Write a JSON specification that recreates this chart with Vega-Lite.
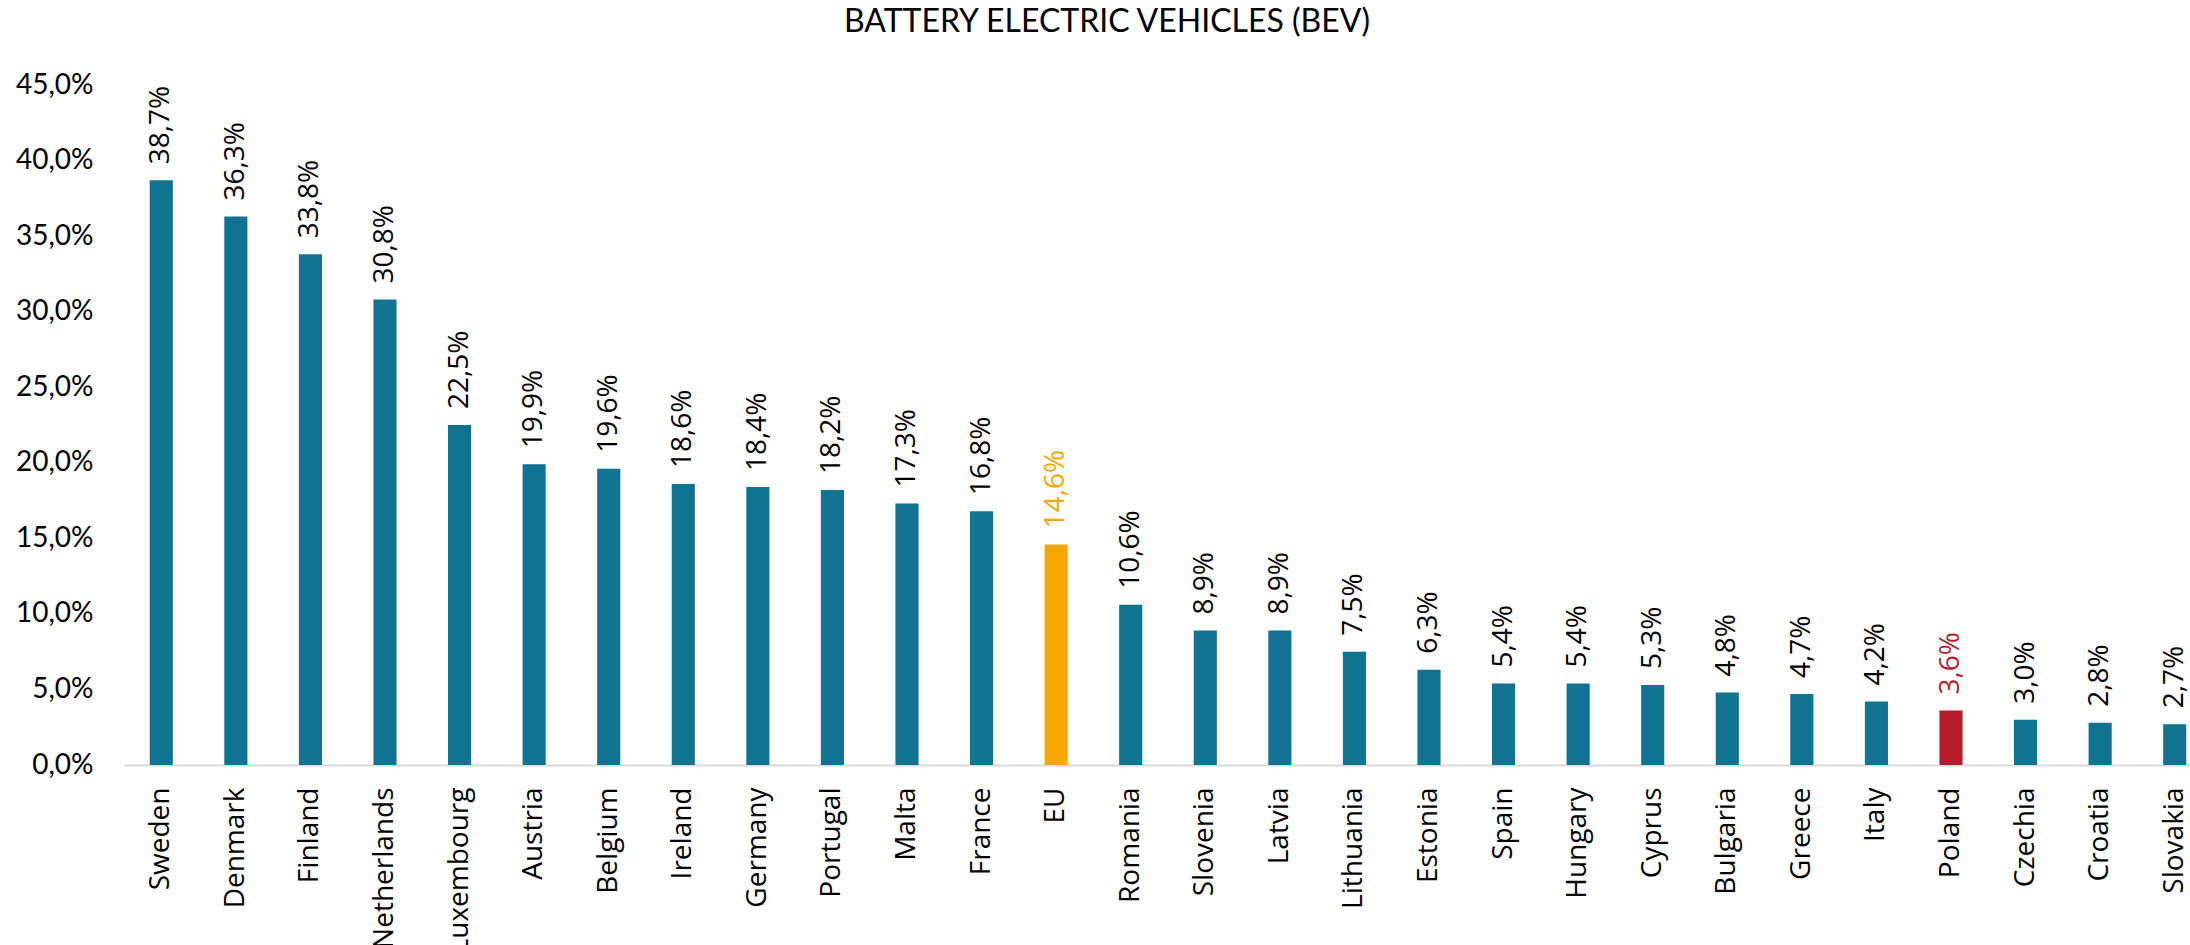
{
  "$schema": "https://vega.github.io/schema/vega-lite/v6.json",
  "width": 2066,
  "height": 680,
  "autosize": {"type": "none"},
  "padding": {"left": 124, "top": 85, "right": 0, "bottom": 180},
  "background": "white",
  "title": {
    "text": "BATTERY ELECTRIC VEHICLES (BEV)",
    "font": "Lato",
    "fontSize": 32,
    "fontWeight": "normal",
    "color": "#000000",
    "anchor": "middle",
    "frame": "group",
    "dx": -50,
    "baseline": "alphabetic",
    "offset": 7
  },
  "config": {
    "view": {"stroke": null},
    "locale": {"number": {"decimal": ",", "thousands": " ", "grouping": [3], "currency": ["", ""]}}
  },
  "data": {
    "values": [
      {"country": "Sweden", "share": 0.387},
      {"country": "Denmark", "share": 0.363},
      {"country": "Finland", "share": 0.338},
      {"country": "Netherlands", "share": 0.308},
      {"country": "Luxembourg", "share": 0.225},
      {"country": "Austria", "share": 0.199},
      {"country": "Belgium", "share": 0.196},
      {"country": "Ireland", "share": 0.186},
      {"country": "Germany", "share": 0.184},
      {"country": "Portugal", "share": 0.182},
      {"country": "Malta", "share": 0.173},
      {"country": "France", "share": 0.168},
      {"country": "EU", "share": 0.146},
      {"country": "Romania", "share": 0.106},
      {"country": "Slovenia", "share": 0.089},
      {"country": "Latvia", "share": 0.089},
      {"country": "Lithuania", "share": 0.075},
      {"country": "Estonia", "share": 0.063},
      {"country": "Spain", "share": 0.054},
      {"country": "Hungary", "share": 0.054},
      {"country": "Cyprus", "share": 0.053},
      {"country": "Bulgaria", "share": 0.048},
      {"country": "Greece", "share": 0.047},
      {"country": "Italy", "share": 0.042},
      {"country": "Poland", "share": 0.036},
      {"country": "Czechia", "share": 0.030},
      {"country": "Croatia", "share": 0.028},
      {"country": "Slovakia", "share": 0.027}
    ]
  },
  "encoding": {
    "x": {
      "field": "country",
      "type": "nominal",
      "sort": null,
      "scale": {"range": [0, 2088], "paddingInner": 0.69, "paddingOuter": 0.345},
      "axis": {
        "title": null,
        "labelAngle": -90,
        "labelFont": "Open Sans",
        "labelFontSize": 28,
        "labelColor": "#000000",
        "ticks": false,
        "domainColor": "#d9d9d9",
        "domainWidth": 2,
        "labelPadding": 22,
        "labelOverlap": false
      }
    },
    "y": {
      "field": "share",
      "type": "quantitative",
      "scale": {"domain": [0, 0.45], "nice": false},
      "axis": {
        "title": null,
        "format": ".1%",
        "values": [0, 0.05, 0.1, 0.15, 0.2, 0.25, 0.3, 0.35, 0.4, 0.45],
        "domain": false,
        "ticks": false,
        "grid": false,
        "labelFont": "Lato",
        "labelFontSize": 28,
        "labelColor": "#000000",
        "labelPadding": 31
      }
    }
  },
  "layer": [
    {
      "mark": {"type": "bar"},
      "encoding": {
        "color": {
          "condition": [
            {"test": "datum.country === 'EU'", "value": "#F5A800"},
            {"test": "datum.country === 'Poland'", "value": "#B61C2B"}
          ],
          "value": "#0F7391"
        }
      }
    },
    {
      "mark": {
        "type": "text",
        "angle": -90,
        "align": "left",
        "baseline": "middle",
        "dx": 16,
        "font": "Open Sans",
        "fontSize": 28
      },
      "encoding": {
        "text": {"field": "share", "type": "quantitative", "format": ".1%"},
        "color": {
          "condition": [
            {"test": "datum.country === 'EU'", "value": "#F5A800"},
            {"test": "datum.country === 'Poland'", "value": "#B61C2B"}
          ],
          "value": "#000000"
        }
      }
    }
  ]
}
